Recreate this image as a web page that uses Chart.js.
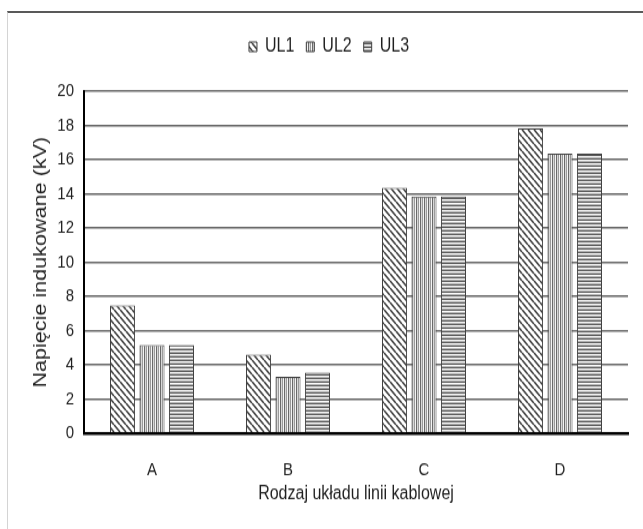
<!DOCTYPE html>
<html>
<head>
<meta charset="utf-8">
<script src="https://cdn.jsdelivr.net/npm/chart.js@4"></script>
<style>
  html, body { margin: 0; padding: 0; background: #fff; }
  body { width: 643px; height: 529px; position: relative; overflow: hidden; }
  #wrap { position: absolute; left: 0; top: 0; width: 643px; height: 441px; transform: scaleY(1.2); transform-origin: 0 0; }
  #frame { position: absolute; left: 7px; top: 11px; right: 0; bottom: 0; border-top: 2px solid #595959; border-left: 1px solid #d4d4d4; pointer-events: none; }
</style>
</head>
<body>
<div id="wrap"><canvas id="chart"></canvas></div>
<div id="frame"></div>
<script>
const categories = ['A', 'B', 'C', 'D'];
const seriesNames = ['UL1', 'UL2', 'UL3'];
const ul1 = [7.47, 4.6, 14.35, 17.83];
const ul2 = [5.15, 3.3, 13.84, 16.35];
const ul3 = [5.15, 3.55, 13.84, 16.35];
const yTicks = [0, 2, 4, 6, 8, 10, 12, 14, 16, 18, 20];

function makeTile(w, h, paint) {
  const c = document.createElement('canvas');
  c.width = w;
  c.height = h;
  const g = c.getContext('2d');
  g.fillStyle = '#fff';
  g.fillRect(0, 0, w, h);
  paint(g);
  return document.getElementById('chart').getContext('2d').createPattern(c, 'repeat');
}

// diagonal "\" hatch
const diag = makeTile(6, 6, g => {
  g.strokeStyle = '#3a3a3a';
  g.lineWidth = 1.5;
  g.beginPath();
  [-1, 0, 1].forEach(k => {
    g.moveTo(k * 6, 0);
    g.lineTo(k * 6 + 6, 6);
  });
  g.stroke();
});

// vertical stripes
const vert = makeTile(4, 1, g => {
  ['#6a6a6a', '#d8d8d8', '#9a9a9a', '#f4f4f4'].forEach((col, i) => {
    g.fillStyle = col;
    g.fillRect(i, 0, 1, 1);
  });
});

// horizontal stripes
const horiz = makeTile(1, 3, g => {
  ['#555', '#fff', '#b4b4b4'].forEach((col, i) => {
    g.fillStyle = col;
    g.fillRect(0, i, 1, 1);
  });
});

const fills = [diag, vert, horiz];
const values = [ul1, ul2, ul3];

const legendSpace = {
  id: 'legendSpace',
  afterInit(chart) {
    const fit = chart.legend.fit;
    chart.legend.fit = function () {
      fit.call(this);
      this.height += 19;
    };
  }
};

const font = "'Liberation Sans', Arial, sans-serif";
Chart.defaults.color = '#1f1f1f';
Chart.defaults.font.family = font;

new Chart(document.getElementById('chart'), {
  type: 'bar',
  data: {
    labels: categories,
    datasets: seriesNames.map((name, i) => ({
      label: name,
      data: values[i],
      backgroundColor: fills[i],
      borderColor: '#404040',
      borderWidth: 1,
      categoryPercentage: 0.65,
      barPercentage: 0.85
    }))
  },
  options: {
    responsive: true,
    maintainAspectRatio: false,
    animation: false,
    devicePixelRatio: 1,
    layout: { padding: { left: 30, right: 15, top: 19, bottom: 0 } },
    plugins: {
      legend: {
        position: 'top',
        labels: { boxWidth: 8, boxHeight: 8, padding: 12, font: { size: 16 } }
      },
      tooltip: { enabled: false }
    },
    scales: {
      x: {
        grid: { display: false },
        border: { color: '#000', width: 2.5 },
        ticks: { padding: 14, font: { size: 15 } },
        title: { display: true, text: 'Rodzaj układu linii kablowej', font: { size: 16 }, padding: { top: 0, bottom: 20 } },
        afterFit(s) { s.height = 80; }
      },
      y: {
        min: 0,
        max: 20,
        afterBuildTicks(s) { s.ticks = yTicks.map(v => ({ value: v })); },
        grid: {
          drawTicks: false,
          color: c => (c.tick && c.tick.value === 0 ? 'rgba(0,0,0,0)' : '#666'),
          lineWidth: 1.5
        },
        border: { color: '#000', width: 2 },
        ticks: { padding: 10, font: { size: 15 } },
        title: { display: true, text: 'Napięcie indukowane (kV)', font: { size: 18 }, padding: { top: 0, bottom: 0 } },
        afterFit(s) { s.width = 54; }
      }
    }
  },
  plugins: [legendSpace]
});
</script>
</body>
</html>
